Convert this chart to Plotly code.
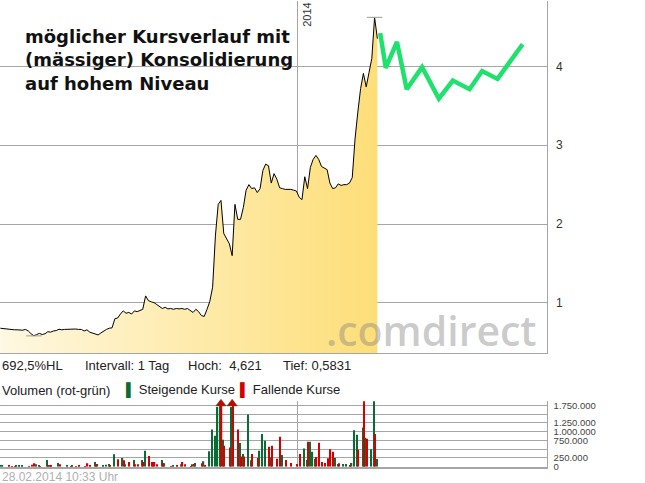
import pandas as pd
import plotly.graph_objects as go

# ---------------- data ----------------
price_start = "2013-06-02"
price_freq = "2D"
price = [
    0.68, 0.675, 0.667, 0.665, 0.663, 0.66, 0.66, 0.66, 0.655, 0.665,
    0.645, 0.61, 0.585, 0.60, 0.615, 0.60, 0.61, 0.636, 0.63, 0.645,
    0.65, 0.667, 0.66, 0.665, 0.668, 0.672, 0.674, 0.67, 0.665, 0.665,
    0.645, 0.66, 0.63, 0.62, 0.61, 0.595, 0.62, 0.645, 0.665, 0.68,
    0.685, 0.80, 0.81, 0.86, 0.90, 0.87, 0.88, 0.86, 0.90, 0.89,
    0.91, 0.92, 1.09, 1.03, 1.015, 1.005, 0.98, 0.955, 0.93, 0.945,
    0.925, 0.93, 0.92, 0.93, 0.925, 0.93, 0.92, 0.93, 0.91, 0.88,
    0.92, 0.89, 0.84, 0.83, 0.92, 1.02, 1.2, 1.85, 2.25, 2.30,
    1.88, 1.81, 1.75, 1.6, 2.25, 2.06, 2.06, 2.21, 2.43, 2.50,
    2.45, 2.46, 2.40, 2.45, 2.68, 2.76, 2.74, 2.52, 2.64, 2.57,
    2.46, 2.45, 2.44, 2.44, 2.44, 2.43, 2.42, 2.34, 2.31, 2.6,
    2.45, 2.72, 2.82, 2.87, 2.82, 2.73, 2.71, 2.69, 2.52, 2.45,
    2.46, 2.51, 2.49, 2.50, 2.50, 2.52, 2.59, 3.08, 3.42, 3.72,
    3.91, 3.74, 3.92, 4.10, 4.62, 4.35,
]

# volume in thousands, same date grid as price
vol_up = [
    38, 40, 0, 0, 0, 0, 38, 48, 48, 0,
    0, 0, 0, 67, 38, 0, 0, 192, 48, 0,
    0, 106, 0, 0, 38, 0, 38, 0, 0, 0,
    0, 0, 0, 0, 135, 77, 0, 38, 58, 77,
    0, 355, 0, 0, 250, 67, 0, 0, 192, 0,
    0, 192, 452, 0, 0, 87, 0, 0, 192, 96,
    0, 0, 48, 0, 0, 67, 0, 0, 0, 67,
    106, 0, 0, 154, 0, 442, 1058, 885, 1700, 2300,
    770, 0, 0, 1700, 0, 0, 673, 365, 0, 1490,
    183, 0, 0, 452, 933, 740, 0, 269, 0, 0,
    0, 336, 0, 0, 0, 0, 0, 0, 0, 519,
    192, 711, 423, 230, 0, 0, 0, 0, 0, 0,
    250, 77, 0, 77, 77, 0, 106, 1038, 913, 0,
    1115, 827, 0, 500, 1870, 221,
]
vol_down = [
    0, 0, 0, 38, 19, 19, 0, 0, 0, 0,
    19, 58, 96, 0, 19, 0, 0, 38, 30, 0,
    0, 67, 0, 0, 0, 19, 0, 19, 48, 0,
    19, 96, 38, 0, 67, 0, 0, 0, 0, 48,
    0, 0, 211, 0, 182, 0, 135, 0, 67, 67,
    0, 135, 0, 308, 135, 135, 67, 0, 106, 0,
    0, 19, 0, 29, 0, 135, 67, 0, 19, 77,
    0, 0, 96, 48, 0, 0, 0, 0, 0, 2500,
    596, 0, 548, 2500, 0, 1058, 288, 288, 0, 0,
    365, 0, 250, 0, 0, 0, 567, 596, 0, 230,
    856, 0, 192, 0, 106, 0, 77, 365, 0, 0,
    711, 0, 0, 279, 683, 135, 106, 240, 500, 423,
    0, 96, 0, 0, 0, 48, 0, 0, 481, 0,
    1870, 798, 0, 0, 933, 0,
]

forecast_dates = ["2014-03-01", "2014-03-05", "2014-03-13", "2014-03-20", "2014-03-31",
                  "2014-04-12", "2014-04-22", "2014-05-04", "2014-05-13", "2014-05-24",
                  "2014-06-11"]
forecast_values = [4.42, 3.98, 4.31, 3.71, 3.99, 3.59, 3.82, 3.71, 3.94, 3.84, 4.28]

HOCH = 4.621
TIEF = 0.5831
year_mark = "2014-01-01"
x_range = ["2013-06-01 18:00", "2014-06-28 06:00"]
price_range = [0.366, 4.828]
price_ticks = [1, 2, 3, 4]
VOL_MAX = 1874000
vol_ticks = [0, 250000, 500000, 750000, 1000000, 1250000, 1500000, 1750000]
vol_tick_labels = ["0", "250.000", "", "750.000", "1.000.000", "1.250.000", "", "1.750.000"]

# ---------------- figure ----------------
dates = pd.date_range(price_start, periods=len(price), freq=price_freq)
up = [v * 1000 for v in vol_up]
down = [v * 1000 for v in vol_down]

W, H = 645, 489          # page height of the capture viewport
REF_H = 483              # layout positions below are given in a 483-tall frame
px = lambda x: x / W
py = lambda y: 1 - y / REF_H

ARIAL = "Liberation Sans, Arial, Helvetica, sans-serif"
GRID = "#a6a6a6"
GREEN_VOL = "#0b6b35"
RED_VOL = "#d40000"

fig = go.Figure()

fig.add_trace(go.Scatter(
    x=dates, y=price, mode="lines",
    line=dict(color="black", width=1),
    fill="tozeroy",
    fillgradient=dict(type="horizontal",
                      colorscale=[[0, "#fff8e2"], [0.55, "#feeaa8"], [1, "#fede78"]]),
    xaxis="x", yaxis="y", hoverinfo="skip"))

i_hi = price.index(max(price))
i_lo = price.index(min(price))
fig.add_trace(go.Scatter(
    x=[dates[i_hi], dates[i_lo]], y=[HOCH, TIEF], mode="markers",
    marker=dict(symbol="line-ew", size=11, line=dict(color="#9a9a9a", width=1)),
    xaxis="x", yaxis="y", hoverinfo="skip"))

fig.add_trace(go.Scatter(
    x=forecast_dates, y=forecast_values, mode="lines",
    line=dict(color="#1fe16d", width=4.5),
    xaxis="x", yaxis="y", hoverinfo="skip"))

fig.add_trace(go.Bar(x=dates, y=up, marker=dict(color=GREEN_VOL, line=dict(width=0)),
                     xaxis="x2", yaxis="y2", hoverinfo="skip"))
fig.add_trace(go.Bar(x=dates, y=down, marker=dict(color=RED_VOL, line=dict(width=0)),
                     xaxis="x2", yaxis="y2", hoverinfo="skip"))

clip_x = [d for d, u, dn in zip(dates, up, down) if max(u, dn) > VOL_MAX]
fig.add_trace(go.Scatter(
    x=clip_x, y=[VOL_MAX * 0.96] * len(clip_x), mode="markers",
    marker=dict(symbol="triangle-up", size=9, color=RED_VOL,
                line=dict(color=GREEN_VOL, width=0.5)),
    xaxis="x2", yaxis="y2", cliponaxis=False, hoverinfo="skip"))

xdom = [0, px(546.7)]
common_x = dict(domain=xdom, range=x_range, type="date", showgrid=True, gridcolor=GRID,
                gridwidth=1, tickvals=[year_mark], showticklabels=False, ticks="",
                zeroline=False, showline=True, linecolor=GRID)

fig.update_layout(
    width=W, height=H, autosize=False, margin=dict(l=0, r=0, t=0, b=0),
    paper_bgcolor="white", plot_bgcolor="white", showlegend=False,
    barmode="group", bargap=0.1, bargroupgap=0,
    xaxis=dict(**common_x, anchor="y", linewidth=1),
    yaxis=dict(domain=[py(352), 1], range=price_range, side="right", anchor="x",
               tickvals=price_ticks, showgrid=True, gridcolor=GRID, gridwidth=1,
               zeroline=False, showline=True, linecolor=GRID, ticks="",
               ticklabelstandoff=6, tickfont=dict(family=ARIAL, size=12, color="#333")),
    xaxis2=dict(**common_x, anchor="y2", linewidth=2),
    yaxis2=dict(domain=[py(465.7), py(400)], range=[0, VOL_MAX], side="right", anchor="x2",
                tickvals=vol_ticks, ticktext=vol_tick_labels, showgrid=True,
                gridcolor=GRID, gridwidth=1, zeroline=False, showline=True,
                linecolor=GRID, ticks="", ticklabelstandoff=4,
                tickfont=dict(family=ARIAL, size=9.5, color="#444")),
)

ann = []
ann.append(dict(text="möglicher Kursverlauf mit<br>(mässiger) Konsolidierung<br>auf hohem Niveau",
                xref="paper", yref="paper", x=px(23), y=py(59), xanchor="left", yanchor="middle",
                align="left", showarrow=False,
                font=dict(family="DejaVu Sans", size=18, color="#111", weight="bold")))
ann.append(dict(text="2014", xref="x", yref="paper", x=year_mark, y=1, xanchor="left",
                yanchor="top", textangle=-90, showarrow=False, xshift=1,
                font=dict(family=ARIAL, size=11, color="#333")))
ann.append(dict(text=".comdirect", xref="paper", yref="paper", x=px(431), y=py(329),
                xanchor="center", yanchor="middle", showarrow=False,
                font=dict(family="Open Sans", size=41, weight=600,
                          color="rgba(128,128,128,0.42)")))
for txt, x in [("692,5%HL", 0), ("Intervall: 1 Tag", 83), ("Hoch:  4,621", 186),
               ("Tief: 0,5831", 281)]:
    ann.append(dict(text=txt, xref="paper", yref="paper", x=px(x), y=py(364),
                    xanchor="left", yanchor="middle", showarrow=False,
                    font=dict(family=ARIAL, size=13, color="#222")))
ann.append(dict(text="Volumen (rot-grün)", xref="paper", yref="paper", x=px(0), y=py(389),
                xanchor="left", yanchor="middle", showarrow=False,
                font=dict(family=ARIAL, size=13, color="#222")))
ann.append(dict(text=f"<span style='color:{GREEN_VOL}'>▌</span> Steigende Kurse",
                xref="paper", yref="paper", x=px(124), y=py(389),
                xanchor="left", yanchor="middle", showarrow=False,
                font=dict(family=ARIAL, size=13, color="#222")))
ann.append(dict(text=f"<span style='color:{RED_VOL}'>▌</span> Fallende Kurse",
                xref="paper", yref="paper", x=px(238), y=py(389),
                xanchor="left", yanchor="middle", showarrow=False,
                font=dict(family=ARIAL, size=13, color="#222")))
ann.append(dict(text="28.02.2014 10:33 Uhr", xref="paper", yref="paper", x=px(0), y=py(476),
                xanchor="left", yanchor="middle", showarrow=False,
                font=dict(family=ARIAL, size=12, color="#b0b0b0")))
fig.update_layout(annotations=ann)

page_fix = (
    "document.documentElement.style.margin='0px';"
    "document.body.style.margin='0px';document.body.style.padding='0px';"
    "document.body.style.overflow='hidden';document.body.style.lineHeight='0';"
    "document.querySelectorAll('.svg-container').forEach(function(e){e.style.display='block';});"
)
fig.write_html("out.html", config={"displayModeBar": False, "responsive": False},
               post_script=page_fix)
